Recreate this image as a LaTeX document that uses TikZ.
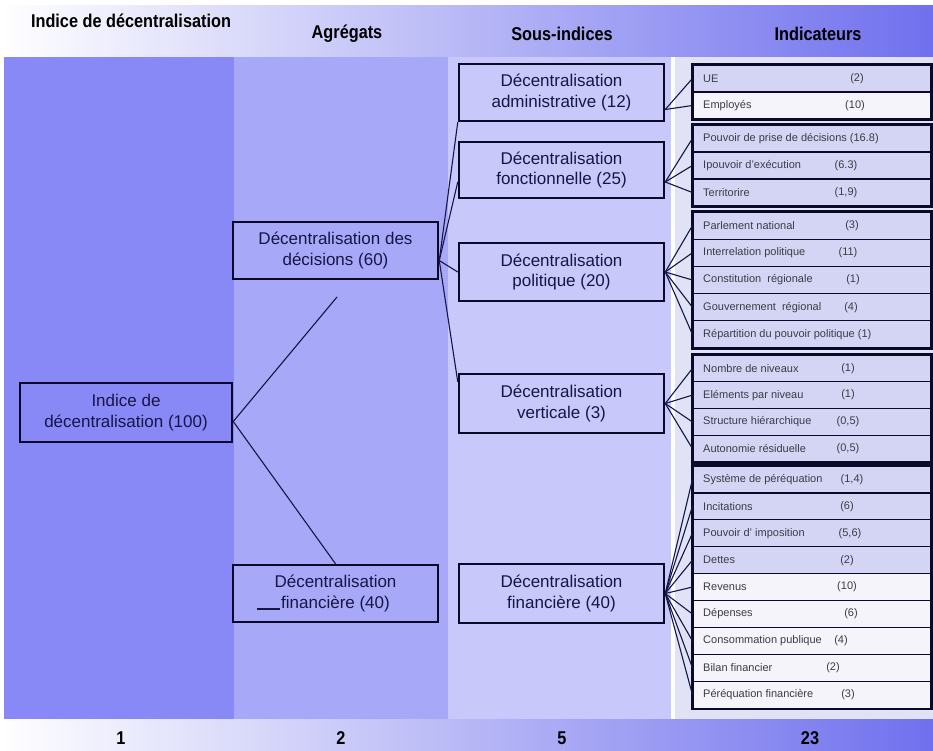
\documentclass[tikz,border=0pt]{standalone}
\usepackage{fontspec}
\setmainfont{Liberation Sans}
\newfontfamily\hdrfont[FakeStretch=0.88]{Liberation Sans}
\definecolor{colA}{RGB}{136,136,246}
\definecolor{colB}{RGB}{168,168,248}
\definecolor{colC}{RGB}{200,200,250}
\definecolor{colD}{RGB}{226,226,247}
\definecolor{indlav}{RGB}{212,212,244}
\definecolor{indwhite}{RGB}{244,244,250}
\definecolor{hdrblue}{RGB}{112,112,238}
\definecolor{hdrmid}{RGB}{228,228,251}
\definecolor{navy}{RGB}{22,22,70}
\definecolor{boxline}{RGB}{10,10,40}
\definecolor{indtext}{RGB}{60,60,70}
\newcommand\indrow[7]{%
  \node[indbox, fill=#4, minimum height=#3pt] (#1) at (812,#2) {};
  \node[indtxt, anchor=west] (#1l) at (703,#2) {#5};
  \node[indtxt] (#1v) at (#6,#2) {#7};
}
\begin{document}
\begin{tikzpicture}[x=1pt,y=-1pt,
  bigbox/.style={draw=boxline, line width=2.5pt, minimum width=205pt, minimum height=57pt,
    align=center, font=\fontsize{17}{20.5}\selectfont, text=navy, inner sep=0pt},
  indbox/.style={draw=boxline, line width=1.2pt, minimum width=238pt, inner sep=0pt},
  indtxt/.style={font=\fontsize{11}{13}\selectfont, text=indtext, inner sep=0pt},
  hdr/.style={font=\hdrfont\bfseries\fontsize{18.5}{21}\selectfont, text=black, inner sep=0pt},
  conn/.style={draw=navy, line width=1.1pt},
  grp/.style={draw=boxline, line width=2pt}]
\useasboundingbox (0,0) rectangle (933,751);
\fill[white] (0,0) rectangle (933,751);
% bands
\shade[left color=white, middle color=hdrmid, right color=hdrblue] (0,6) rectangle (933,57);
\shade[left color=white, middle color=hdrmid, right color=hdrblue] (0,719) rectangle (933,751);
% columns
\fill[colA] (4,57) rectangle (234,719);
\fill[colB] (234,57) rectangle (448,719);
\fill[colC] (448,57) rectangle (671,719);
\fill[colD] (675,57) rectangle (933,719);
% headers
\node[hdr] (h1) at (131,21) {Indice de décentralisation};
\node[hdr] (h2) at (347,34) {Agrégats};
\node[hdr] (h3) at (562,34) {Sous-indices};
\node[hdr] (h4) at (818,34) {Indicateurs};
% footer numbers
\node[hdr] (f1) at (121,738) {1};
\node[hdr] (f2) at (341,738) {2};
\node[hdr] (f3) at (562,738) {5};
\node[hdr] (f4) at (810,738) {23};
% main boxes
\node[bigbox, fill=colA, minimum width=212pt, minimum height=59pt] (indice) at (126,412.5) {Indice de\\décentralisation (100)};
\node[bigbox, fill=colB] (aggdec) at (335.5,250.5) {Décentralisation des\\décisions (60)};
\node[bigbox, fill=colB] (aggfin) at (335.5,593.5) {Décentralisation\\financière (40)};
\node[bigbox, fill=colC] (admin) at (561.5,92.5) {Décentralisation\\administrative (12)};
\node[bigbox, fill=colC, minimum height=56pt] (fonct) at (561.5,170) {Décentralisation\\fonctionnelle (25)};
\node[bigbox, fill=colC, minimum height=58pt] (polit) at (561.5,272) {Décentralisation\\politique (20)};
\node[bigbox, fill=colC, minimum height=59pt] (vert) at (561.5,403.5) {Décentralisation\\verticale (3)};
\node[bigbox, fill=colC, minimum height=59pt] (sfin) at (561.5,593.5) {Décentralisation\\financière (40)};
% indicators
\indrow{r1}{78.5}{27}{indlav}{UE}{857}{(2)}
\indrow{r2}{105.5}{27}{indwhite}{Employés}{855}{(10)}
\indrow{r3}{138.5}{27}{indlav}{Pouvoir de prise de décisions (16.8)}{850}{}
\indrow{r4}{165.5}{27}{indlav}{Ipouvoir d'exécution}{846}{(6.3)}
\indrow{r5}{192.5}{27}{indlav}{Territorire}{846}{(1,9)}
\indrow{r6}{225.6}{27.2}{indlav}{Parlement national}{852}{(3)}
\indrow{r7}{252.8}{27.2}{indlav}{Interrelation politique}{848}{(11)}
\indrow{r8}{280}{27.2}{indlav}{Constitution\ \ régionale}{853}{(1)}
\indrow{r9}{307.2}{27.2}{indlav}{Gouvernement\ \ régional}{851}{(4)}
\indrow{r10}{334.4}{27.2}{indlav}{Répartition du pouvoir politique (1)}{850}{}
\indrow{r11}{368.4}{26.75}{indlav}{Nombre de niveaux}{848}{(1)}
\indrow{r12}{395.1}{26.75}{indlav}{Eléments par niveau}{848}{(1)}
\indrow{r13}{421.9}{26.75}{indlav}{Structure hiérarchique}{848}{(0,5)}
\indrow{r14}{448.6}{26.75}{indlav}{Autonomie résiduelle}{848}{(0,5)}
\indrow{r15}{479.45}{26.9}{indlav}{Système de péréquation}{852}{(1,4)}
\indrow{r16}{506.35}{26.9}{indlav}{Incitations}{847}{(6)}
\indrow{r17}{533.25}{26.9}{indlav}{Pouvoir d' imposition}{850}{(5,6)}
\indrow{r18}{560.15}{26.9}{indlav}{Dettes}{847}{(2)}
\indrow{r19}{587.05}{26.9}{indwhite}{Revenus}{847}{(10)}
\indrow{r20}{613.95}{26.9}{indwhite}{Dépenses}{851}{(6)}
\indrow{r21}{640.85}{26.9}{indwhite}{Consommation publique}{841}{(4)}
\indrow{r22}{667.75}{26.9}{indwhite}{Bilan financier}{833}{(2)}
\indrow{r23}{694.65}{26.9}{indwhite}{Péréquation financière}{848}{(3)}
% group outlines
\draw[grp] (r1.north west) rectangle (r2.south east);
\draw[grp] (r3.north west) rectangle (r5.south east);
\draw[grp] (r6.north west) rectangle (r10.south east);
\draw[grp] (r11.north west) rectangle (r14.south east);
\draw[grp] (r15.north west) rectangle (r23.south east);
% connectors sub-indices -> indicators
\coordinate (sA) at ([yshift=-17pt]admin.east);
\coordinate (sF) at ([yshift=-12pt]fonct.east);
\coordinate (sP) at (polit.east);
\coordinate (sV) at (vert.east);
\coordinate (sS) at (sfin.east);
\foreach \r in {r1,r2} \draw[conn] (sA) -- (\r.west);
\foreach \r in {r3,r4,r5} \draw[conn] (sF) -- (\r.west);
\foreach \r in {r6,r7,r8,r9,r10} \draw[conn] (sP) -- (\r.west);
\foreach \r in {r11,r12,r13,r14} \draw[conn] (sV) -- (\r.west);
\foreach \r in {r15,r16,r17,r18,r19,r20,r21,r22,r23} \draw[conn] (sS) -- (\r.west);
% aggregates -> sub-indices
\coordinate (sD) at ([yshift=-10pt]aggdec.east);
\draw[conn] (sD) -- (admin.south west);
\draw[conn] (sD) -- ([yshift=-12pt]fonct.west);
\draw[conn] (sD) -- (polit.west);
\draw[conn] (sD) -- ([yshift=-9pt]vert.north west);
% index -> aggregates
\coordinate (sI) at ([yshift=-9pt]indice.east);
\coordinate (freeUp) at (337,297);
\draw[conn] (sI) -- (freeUp);
\draw[conn] (sI) -- (aggfin.north);
% stray stroke
\coordinate (st1) at (257,609);
\coordinate (st2) at (280,609);
\draw[conn] (st1) -- (st2);
\end{tikzpicture}
\end{document}
